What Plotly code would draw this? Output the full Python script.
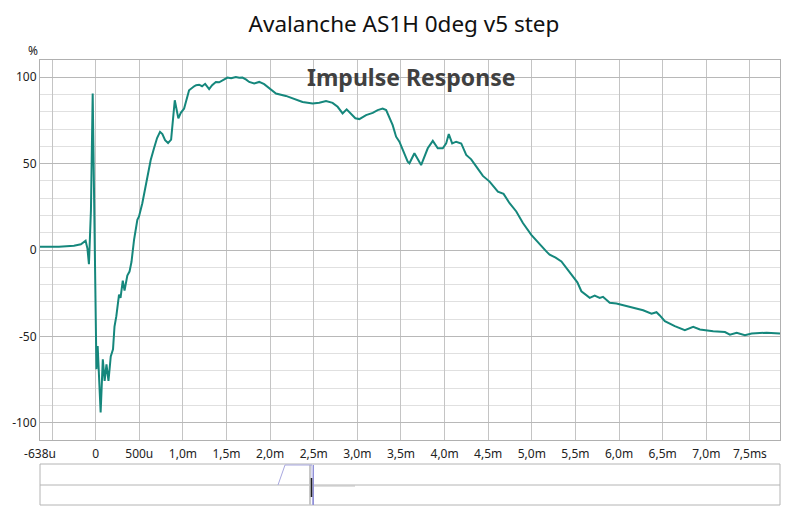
import plotly.graph_objects as go

# Step response samples (time in ms, level in %)
time_ms = [-0.638, -0.421, -0.249, -0.169, -0.115, -0.094, -0.077, -0.054, -0.034, -0.020,
           0.009, 0.023, 0.034, 0.057, 0.082, 0.103, 0.124, 0.147, 0.173, 0.199,
           0.216, 0.237, 0.268, 0.285, 0.311, 0.331, 0.363, 0.388, 0.411, 0.440,
           0.478, 0.497, 0.535, 0.581, 0.631, 0.669, 0.704, 0.738, 0.765, 0.796,
           0.830, 0.865, 0.907, 0.948, 0.976, 1.014, 1.071, 1.129, 1.152, 1.186,
           1.220, 1.255, 1.301, 1.335, 1.378, 1.416, 1.454, 1.511, 1.553, 1.607,
           1.645, 1.683, 1.726, 1.760, 1.817, 1.875, 1.932, 1.990, 2.067, 2.181,
           2.296, 2.372, 2.487, 2.564, 2.641, 2.716, 2.774, 2.831, 2.877, 2.928,
           2.977, 3.023, 3.100, 3.176, 3.233, 3.290, 3.330, 3.405, 3.444, 3.482,
           3.577, 3.597, 3.654, 3.731, 3.807, 3.865, 3.922, 3.979, 4.018, 4.048,
           4.087, 4.133, 4.191, 4.248, 4.305, 4.366, 4.439, 4.516, 4.611, 4.676,
           4.745, 4.822, 4.898, 4.994, 5.090, 5.166, 5.204, 5.273, 5.339, 5.414,
           5.491, 5.522, 5.568, 5.618, 5.664, 5.721, 5.778, 5.816, 5.893, 5.970,
           6.085, 6.161, 6.276, 6.372, 6.429, 6.467, 6.525, 6.639, 6.754, 6.850,
           6.927, 7.079, 7.214, 7.271, 7.348, 7.443, 7.520, 7.692, 7.845]
level_pct = [1.9, 1.9, 2.5, 3.3, 5.4, 0.8, -8.2, 23.0, 90.6, 29.0,
             -69.0, -55.6, -70.0, -94.0, -63.3, -75.8, -66.2, -75.8, -61.6, -57.5,
             -44.3, -38.3, -25.8, -27.7, -17.7, -23.5, -14.8, -12.5, -6.8, 5.9,
             17.5, 19.4, 27.1, 38.7, 52.1, 58.9, 64.8, 68.4, 67.1, 63.6,
             61.9, 63.9, 86.7, 76.2, 79.4, 81.9, 92.5, 94.8, 95.4, 95.7,
             94.8, 96.2, 93.1, 95.4, 97.3, 97.1, 98.3, 99.8, 99.4, 100.2,
             99.7, 99.8, 98.6, 97.3, 96.4, 97.3, 96.0, 93.5, 90.6, 89.2,
             87.3, 85.7, 84.8, 85.2, 86.2, 85.2, 82.9, 79.1, 81.4, 78.5,
             76.3, 75.8, 78.1, 79.4, 81.0, 81.9, 81.0, 72.3, 65.6, 62.7,
             51.1, 50.2, 56.0, 49.2, 58.9, 63.2, 58.9, 58.9, 61.7, 67.1,
             61.7, 62.7, 61.7, 55.0, 52.5, 48.1, 42.9, 39.6, 33.8, 32.5,
             27.1, 22.3, 15.6, 8.8, 3.1, -0.8, -2.7, -4.4, -6.6, -11.4,
             -16.2, -18.7, -23.9, -25.8, -27.7, -26.4, -27.7, -27.1, -30.6, -31.0,
             -32.5, -33.5, -34.9, -36.9, -36.0, -37.9, -41.2, -44.1, -46.4, -44.5,
             -46.0, -47.0, -47.5, -49.0, -47.9, -49.3, -48.3, -47.9, -48.3]

x_tick_vals = [-0.638, -0.5, 0, 0.5, 1.0, 1.5, 2.0, 2.5, 3.0, 3.5, 4.0, 4.5, 5.0, 5.5, 6.0, 6.5, 7.0, 7.5]
x_tick_text = ["-638u", "", "0", "500u", "1,0m", "1,5m", "2,0m", "2,5m", "3,0m", "3,5m",
               "4,0m", "4,5m", "5,0m", "5,5m", "6,0m", "6,5m", "7,0m", "7,5ms"]
y_tick_vals = [-100, -50, 0, 50, 100]
y_tick_text = ["-100", "-50", "0", "50", "100"]

FONT = "Noto Sans"

fig = go.Figure()
fig.add_trace(go.Scatter(x=time_ms, y=level_pct, mode="lines",
                         line=dict(color="#15877c", width=2), hoverinfo="skip",
                         showlegend=False))

# page has an 8px body margin, so the figure is 792x500 and offsets are shifted by 8px
fig.update_layout(
    width=792, height=500,
    margin=dict(l=32, r=20, t=52, b=68, autoexpand=False),
    paper_bgcolor="white", plot_bgcolor="white",
    font=dict(family=FONT, size=12, color="#333333"),
    title=dict(text="Avalanche AS1H 0deg v5 step", x=0.5, xanchor="center",
               y=0.968, yanchor="middle", font=dict(family=FONT, size=22.5, color="#111111")),
    xaxis=dict(range=[-0.638, 7.845], tickmode="array", tickvals=x_tick_vals,
               ticktext=x_tick_text, showgrid=True, gridcolor="#c4c4c4", gridwidth=1,
               zeroline=False, showline=True, linecolor="#b0b0b0", mirror=True,
               ticks="", ticklabelstandoff=3, automargin=False,
               tickfont=dict(size=12, color="#222222")),
    yaxis=dict(range=[-110, 110], tickmode="array", tickvals=y_tick_vals,
               ticktext=y_tick_text, showgrid=True, gridcolor="#b8b8b8", gridwidth=1,
               zeroline=False, showline=True, linecolor="#b0b0b0", mirror=True,
               ticks="", automargin=False, tickfont=dict(size=12, color="#222222"),
               minor=dict(dtick=10, tick0=0, showgrid=True, gridcolor="#e0e0e0", gridwidth=1)),
)

fig.add_annotation(text="Impulse Response", xref="paper", yref="paper",
                   x=0.502, y=0.955, xanchor="center", yanchor="middle", showarrow=False,
                   font=dict(family=FONT, size=23, color="#404040", weight="bold"))
fig.add_annotation(text="%", xref="paper", yref="paper", x=-0.0095, y=1.026,
                   xanchor="center", yanchor="middle", showarrow=False,
                   font=dict(family=FONT, size=12, color="#222222"))

# overview / navigation strip below the chart (screen-pixel based paper coordinates)
def px_x(p):
    return (p - 40) / 740.0

def px_y(p):
    return (440 - p) / 380.0

shapes = [
    dict(type="rect", xref="paper", yref="paper", x0=px_x(40), x1=px_x(780),
         y0=px_y(505), y1=px_y(464), line=dict(color="#b4b4b4", width=1)),
    dict(type="line", xref="paper", yref="paper", x0=px_x(40), x1=px_x(780),
         y0=px_y(485), y1=px_y(485), line=dict(color="#b4b4b4", width=1)),
    dict(type="line", xref="paper", yref="paper", x0=px_x(310), x1=px_x(310),
         y0=px_y(505), y1=px_y(465), line=dict(color="#c8c8c8", width=2)),
    dict(type="path", xref="paper", yref="paper",
         path="M {} {} L {} {} L {} {} L {} {}".format(px_x(278), px_y(485), px_x(285), px_y(465),
                                                     px_x(312), px_y(465), px_x(312.5), px_y(505)),
         line=dict(color="#a8a8e0", width=1)),
    dict(type="line", xref="paper", yref="paper", x0=px_x(313.5), x1=px_x(313.5),
         y0=px_y(505), y1=px_y(465), line=dict(color="#9090d8", width=1)),
    dict(type="line", xref="paper", yref="paper", x0=px_x(311.5), x1=px_x(311.5),
         y0=px_y(497), y1=px_y(478), line=dict(color="#202020", width=1.5)),
    dict(type="line", xref="paper", yref="paper", x0=px_x(314), x1=px_x(355),
         y0=px_y(486), y1=px_y(486), line=dict(color="#c0c0c0", width=1)),
]
fig.update_layout(shapes=shapes)

fig.write_html("out.html")
